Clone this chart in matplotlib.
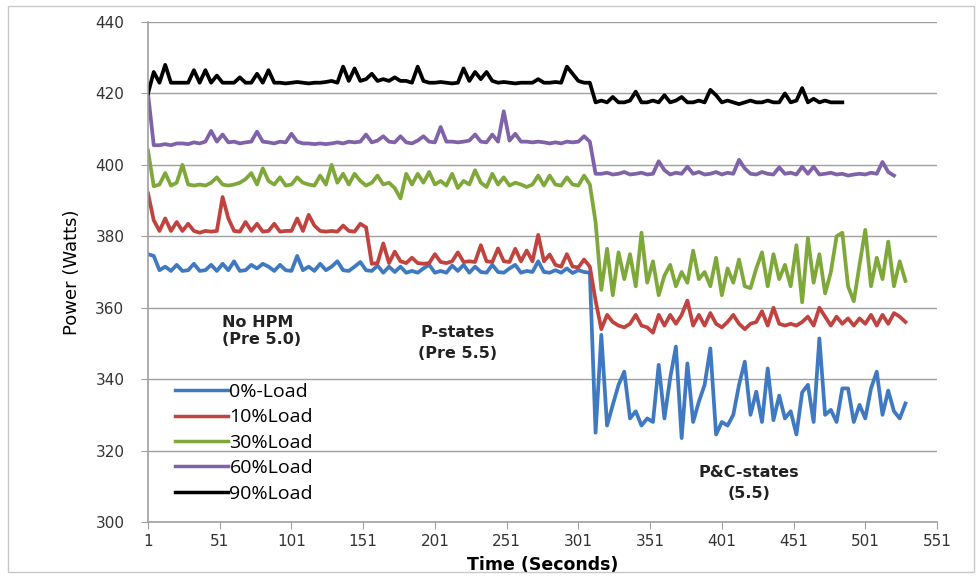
import numpy as np
import matplotlib
matplotlib.use('Agg')
import matplotlib.pyplot as plt
from matplotlib.patches import Rectangle

# power readings (W), one sample every 4 seconds starting at t = 1
load0 = [375, 374.5, 370.5, 371.5, 370.3, 372, 370.3, 370.5, 372.3, 370.3,
         370.5, 372, 370.3, 372.3, 370.5, 373, 370.3, 370.5, 372, 371,
         372.3, 371.5, 370.3, 372, 370.5, 370.3, 374.5, 370.5, 371.5, 370.3,
         372.3, 370.5, 371.5, 373, 370.5, 370.3, 371.5, 372.8, 370.5, 370.3,
         371.8, 369.8, 371.5, 370, 371.5, 369.8, 370.3, 369.8, 371, 372,
         369.8, 370.3, 369.8, 371.8, 370.3, 372, 369.8, 371.5, 370, 369.8,
         372, 370, 369.8, 371, 372, 369.8, 370.3, 370, 373, 370,
         369.8, 370.5, 369.8, 371, 369.7, 370.5, 370, 369.8,
         325, 352.4, 327, 332.8, 338.4, 342.1, 329, 331, 327, 329,
         328, 344, 329, 340.3, 349.1, 323.5, 344.4, 328, 333.7, 338.4,
         348.6, 324.5, 328, 327, 330, 338.4, 344.9, 330, 336.5, 328,
         343, 328.5, 335.4, 329, 331, 324.5, 336.3, 338.4, 328, 351.4,
         330, 331.4, 328, 337.4, 337.4, 328, 332.8, 329, 337.4, 342.1,
         330, 336.8, 331, 329, 333.2]
load10 = [392, 384.5, 381.5, 385, 381.5, 384, 381.5, 383.5, 381.5, 381,
          381.5, 381.3, 381.5, 391, 385, 381.5, 381.3, 384, 381.5, 383.5,
          381.3, 381.5, 383.5, 381.3, 381.5, 381.5, 385, 381.5, 386, 383,
          381.5, 381.3, 381.5, 381.3, 383, 381.5, 381.3, 383.5, 382.5, 372.3,
          372.5, 378, 372.5, 375.7, 373, 372.5, 374, 372.5, 372.3, 372.5,
          375, 372.8, 372.5, 373, 375.5, 372.8, 373, 372.8, 377.5, 373,
          372.8, 376.6, 373, 372.8, 376.5, 373, 376, 373, 380.4, 373,
          374.9, 372, 371.5, 375, 371.5, 371.3, 373.5, 371.5,
          362, 354, 358, 356, 355, 354.5, 355.5, 358, 355, 354.5,
          353, 358, 355, 358, 355.5, 358, 362, 355, 358, 355,
          358.5, 355.5, 354.5, 356, 358, 355.5, 354, 355.5, 356, 359,
          355, 360, 355.5, 355, 355.5, 355, 356, 357.5, 355, 360,
          357.5, 355, 357.5, 355.5, 357, 355, 357, 355.5, 358, 355,
          358, 355.5, 358.5, 357.5, 356]
load30 = [404, 394, 394.5, 397.7, 394.2, 395, 400, 394.5, 394.2, 394.5,
          394.2, 395, 396.5, 394.5, 394.2, 394.5, 395, 396, 397.7, 394.5,
          399, 395.5, 394.5, 396.5, 394.2, 394.5, 396.5, 395, 394.5, 394.2,
          397, 394.5, 400, 395, 397.5, 394.5, 397.5, 395.5, 394.2, 395,
          397, 394.5, 395, 393.5, 390.6, 397.5, 394.5, 397.5, 395, 398,
          394.5, 395.5, 394.2, 397.5, 393.5, 395.5, 394.5, 398.5, 395, 393.8,
          397.5, 394.5, 396.5, 394.2, 395, 394.5, 393.8, 394.5, 397, 394.2,
          397, 394.5, 394.2, 396.5, 394.5, 394.2, 397, 394.5,
          384, 365, 376.5, 363.5, 375.5, 368, 375, 366, 381, 367,
          373, 363.5, 369, 372, 366, 370, 367, 376, 368, 370,
          366, 374, 363.5, 371, 367, 373.5, 366, 365.5, 371, 375.5,
          366, 375, 368, 372, 366, 377.5, 361.5, 379.5, 367, 375,
          364, 370, 380, 381, 366, 361.8, 372, 381.8, 366, 374,
          368, 378.5, 366, 373, 367.5]
load60 = [420, 405.5, 405.5, 405.8, 405.5, 406, 406, 405.8, 406.3, 406,
          406.5, 409.5, 406.5, 408.5, 406.3, 406.5, 406, 406.3, 406.5, 409.3,
          406.5, 406.3, 406, 406.5, 406.3, 408.7, 406.5, 406, 406, 405.8,
          406, 405.8, 406, 406.3, 406, 406.5, 406.3, 406.5, 408.5, 406.3,
          406.8, 408, 406.5, 406.3, 408, 406.3, 406, 406.8, 408, 406.5,
          406.3, 410.6, 406.5, 406.5, 406.3, 406.5, 406.8, 408.5, 406.5, 406.3,
          408.5, 406.5, 415, 406.8, 408.7, 406.5, 406.5, 406.3, 406.5, 406.3,
          406, 406.3, 406, 406.5, 406.3, 406.5, 408, 406.5,
          397.5, 397.5, 397.8, 397.3, 397.5, 398, 397.3, 397.5, 397.8, 397.3,
          397.5, 401, 398.5, 397.3, 397.8, 397.5, 399.5, 397.5, 398, 397.3,
          397.5, 398, 397.3, 397.8, 397.5, 401.4, 399, 397.5, 397.3, 398,
          397.5, 397.3, 399.3, 397.5, 397.8, 397.3, 399.5, 397.5, 399.5, 397.3,
          397.5, 397.8, 397.3, 397.5, 397, 397.3, 397.5, 397.3, 397.8, 397.5,
          400.8, 398, 397]
load90 = [420, 426, 423, 428, 423, 423, 423, 423, 426.5, 423,
          426.5, 423, 425, 423, 423, 423, 424.5, 423, 423, 425.5,
          423, 426.5, 423, 423, 422.8, 423, 423.2, 423, 422.8, 423,
          423, 423.2, 423.5, 423, 427.5, 423.5, 427, 423.5, 424, 425.5,
          423.5, 424, 423.5, 424.5, 423.5, 423.5, 423, 427.5, 423.5, 423,
          423, 423.2, 423, 422.8, 423, 427, 423.5, 426, 424, 426,
          423.5, 423, 423.2, 423, 422.8, 423, 423, 423, 424, 423,
          423, 423.2, 423, 427.5, 425.5, 423.5, 423, 423,
          417.5, 418, 417.5, 419, 417.5, 417.5, 418, 420.5, 417.5, 417.5,
          418, 417.5, 419.5, 417.5, 418, 419, 417.5, 417.5, 418, 417.5,
          421, 419.5, 417.5, 418, 417.5, 417, 417.5, 418, 417.5, 417.5,
          418, 417.5, 417.5, 420, 417.5, 418, 421.5, 417.5, 418.5, 417.5,
          418, 417.5, 417.5, 417.5]

labels = ['0%-Load', '10%Load', '30%Load', '60%Load', '90%Load']
colors = ['#3f79c2', '#c0433f', '#7fa83a', '#8062a8', '#000000']
series = [load0, load10, load30, load60, load90]
step = 4
xticks = list(range(1, 552, 50))
yticks = list(range(300, 441, 20))

fig = plt.figure(figsize=(9.77, 5.77), dpi=100)
ax = fig.add_axes([148/977, 1 - 522/577, (937-148)/977, 500/577])

for vals, lab, col in zip(series, labels, colors):
    t = 1 + step * np.arange(len(vals))
    ax.plot(t, vals, color=col, lw=2.7, label=lab)

ax.set_xlim(1, 551)
ax.set_ylim(300, 440)
ax.set_xticks(xticks)
ax.set_yticks(yticks)
ax.yaxis.grid(True, color='#a0a0a0', lw=1)
ax.set_axisbelow(True)
for s in ['top', 'right']:
    ax.spines[s].set_visible(False)
for s in ['left', 'bottom']:
    ax.spines[s].set_color('#a0a0a0')
    ax.spines[s].set_linewidth(1.2)
ax.tick_params(axis='both', colors='#a0a0a0', length=5, labelcolor='#333333',
               labelsize=11)
ax.tick_params(axis='y', pad=12)
for lbl in ax.get_xticklabels() + ax.get_yticklabels():
    lbl.set_family('DejaVu Sans')

ax.set_xlabel('Time (Seconds)', fontsize=12.5, fontweight='bold',
              family='DejaVu Sans', labelpad=5)
ax.set_ylabel('Power (Watts)', fontsize=13, family='Liberation Sans Narrow',
              labelpad=10)

txt = dict(fontsize=11.5, fontweight='bold', family='DejaVu Sans', color='#222222')
ax.text(52.5, 353.5, 'No HPM\n(Pre 5.0)', ha='left', va='center', **txt)
ax.text(217, 350, 'P-states\n(Pre 5.5)', ha='center', va='center',
        multialignment='center', linespacing=1.5, **txt)
ax.text(420, 311, 'P&C-states\n(5.5)', ha='center', va='center',
        multialignment='center', linespacing=1.5, **txt)

leg = ax.legend(loc='upper left', bbox_to_anchor=((175-148)/789, (522-383)/500),
                frameon=False, handlelength=2.7, handletextpad=0.1,
                labelspacing=0.38, borderpad=0, borderaxespad=0,
                prop={'family': 'Open Sans', 'size': 14})
for h in leg.get_lines():
    h.set_linewidth(2.5)

fig.patches.append(Rectangle((8/977, 5/577), 966/977, 566/577,
                             transform=fig.transFigure, fill=False,
                             edgecolor='#c8c8c8', lw=1))

fig.savefig('out.png', dpi=100)
